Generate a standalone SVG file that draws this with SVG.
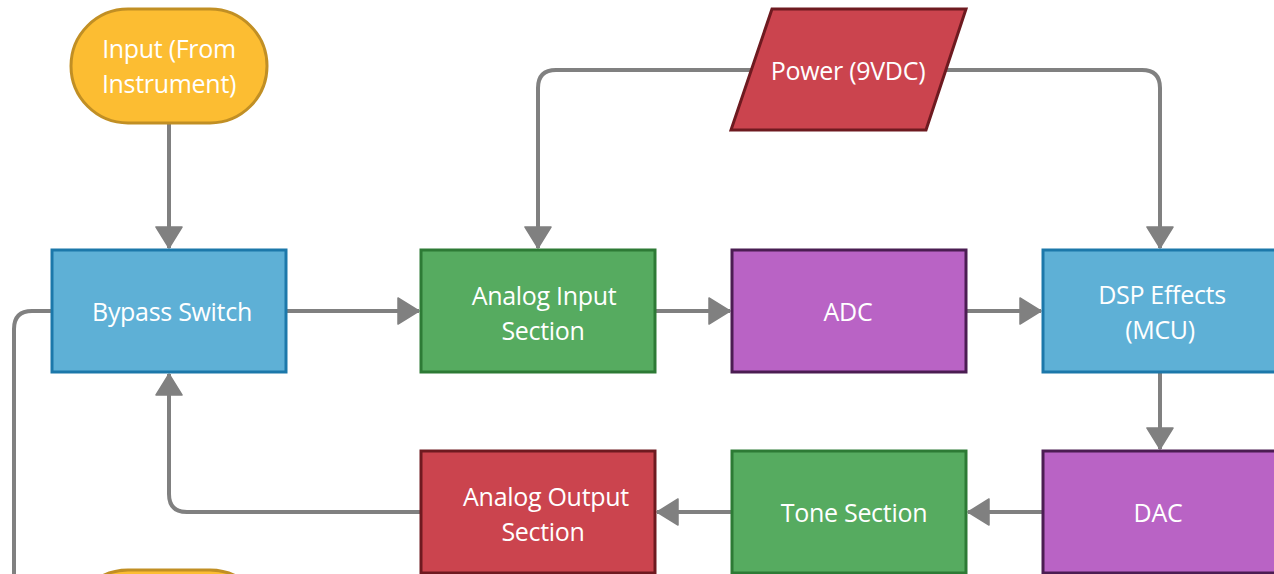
<svg xmlns="http://www.w3.org/2000/svg" width="1274" height="574" viewBox="0 0 1274 574">
<defs>
<style>
.t{font-family:"Open Sans","Noto Sans",sans-serif;font-size:25px;font-weight:500;fill:#ffffff;text-anchor:middle;letter-spacing:-0.3px}
.c{fill:none;stroke:#808080;stroke-width:4}
.yel{fill:#FCBD32;stroke:#C18F24;stroke-width:3}
.blu{fill:#5EB0D6;stroke:#1C78AA;stroke-width:3}
.grn{fill:#56AB60;stroke:#2D7A35;stroke-width:3}
.pur{fill:#B963C5;stroke:#4B1D52;stroke-width:3}
.red{fill:#CB444E;stroke:#6E1A20;stroke-width:3}
</style>
<marker id="ah" markerUnits="userSpaceOnUse" markerWidth="28" markerHeight="28" viewBox="0 0 28 28" refX="22" refY="14" orient="auto">
<path d="M1,1 L22,14 L1,27 Z" fill="#808080" stroke="#808080" stroke-width="1.5" stroke-linejoin="round"/>
</marker>
</defs>
<rect width="1274" height="574" fill="#ffffff"/>
<g id="connectors">
<path class="c" d="M169,123 V248" marker-end="url(#ah)"/>
<path class="c" d="M286,311 H419" marker-end="url(#ah)"/>
<path class="c" d="M655,311 H730" marker-end="url(#ah)"/>
<path class="c" d="M966,311 H1041" marker-end="url(#ah)"/>
<path class="c" d="M752,70 H556 Q538,70 538,88 V248" marker-end="url(#ah)"/>
<path class="c" d="M945,70 H1142 Q1160,70 1160,88 V248" marker-end="url(#ah)"/>
<path class="c" d="M1160,372 V449" marker-end="url(#ah)"/>
<path class="c" d="M1043,512 H968" marker-end="url(#ah)"/>
<path class="c" d="M732,512 H657" marker-end="url(#ah)"/>
<path class="c" d="M421,512 H187 Q169,512 169,494 V374" marker-end="url(#ah)"/>
<path class="c" d="M52,311 H32 Q14,311 14,329 V580"/>
</g>
<g id="input">
<rect class="yel" x="71" y="9" width="196" height="114" rx="57"/>
<text class="t" x="169" y="58">Input (From</text>
<text class="t" x="169" y="93">Instrument)</text>
</g>
<g id="power">
<polygon class="red" points="772,9 966,9 926,130 731,130"/>
<text class="t" x="848" y="80">Power (9VDC)</text>
</g>
<g id="bypass">
<rect class="blu" x="52" y="250" width="234" height="122"/>
<text class="t" x="172" y="321">Bypass Switch</text>
</g>
<g id="analog-input">
<rect class="grn" x="421" y="250" width="234" height="122"/>
<text class="t" x="544" y="305">Analog Input</text>
<text class="t" x="543" y="340">Section</text>
</g>
<g id="adc">
<rect class="pur" x="732" y="250" width="234" height="122"/>
<text class="t" x="848" y="321">ADC</text>
</g>
<g id="dsp">
<rect class="blu" x="1043" y="250" width="234" height="122"/>
<text class="t" x="1162" y="304">DSP Effects</text>
<text class="t" x="1160" y="339">(MCU)</text>
</g>
<g id="dac">
<rect class="pur" x="1043" y="451" width="234" height="122"/>
<text class="t" x="1158" y="522">DAC</text>
</g>
<g id="tone">
<rect class="grn" x="732" y="451" width="234" height="122"/>
<text class="t" x="854" y="522">Tone Section</text>
</g>
<g id="analog-output">
<rect class="red" x="421" y="451" width="234" height="122"/>
<text class="t" x="546" y="506">Analog Output</text>
<text class="t" x="543" y="541">Section</text>
</g>
<g id="output">
<rect class="yel" x="71" y="570" width="196" height="114" rx="57"/>
</g>
</svg>
